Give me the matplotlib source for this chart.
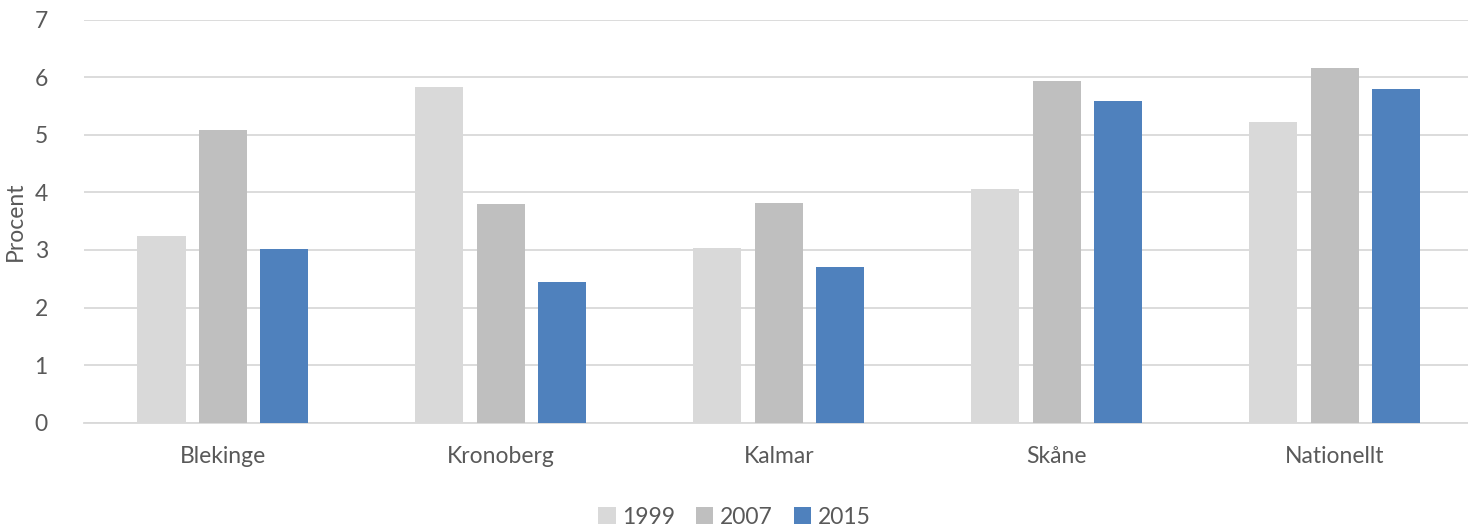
import numpy as np
import matplotlib
matplotlib.use('Agg')
import matplotlib.pyplot as plt

plt.rcParams['font.family'] = ['Lato', 'DejaVu Sans']

# data
regions = ['Blekinge', 'Kronoberg', 'Kalmar', 'Skåne', 'Nationellt']
years = ['1999', '2007', '2015']
v1999 = [3.24, 5.83, 3.03, 4.06, 5.22]
v2007 = [5.08, 3.80, 3.82, 5.93, 6.16]
v2015 = [3.02, 2.45, 2.71, 5.58, 5.80]
colors = ['#D9D9D9', '#BFBFBF', '#4F81BD']

txt = '#595959'
fs = 16.5

fig = plt.figure(figsize=(14.68, 5.25), dpi=100)
ax = fig.add_axes([0.0572, 0.195, 0.9428, 0.7675])

x = np.arange(len(regions))
w = 0.173
step = 0.221
for i, (vals, lab) in enumerate(zip([v1999, v2007, v2015], years)):
    ax.bar(x + (i - 1) * step, vals, width=w, color=colors[i], label=lab,
           zorder=3)

ax.set_ylim(0, 7)
ax.set_xlim(-0.5, 4.48)
ax.set_yticks(range(0, 8))
ax.set_xticks(x)
ax.set_xticklabels(regions)
ax.yaxis.grid(True, color='#D9D9D9', linewidth=1.3, zorder=0)
for s in ['top', 'right', 'left']:
    ax.spines[s].set_visible(False)
ax.spines['bottom'].set_color('#D9D9D9')
ax.spines['bottom'].set_linewidth(1.3)
ax.tick_params(axis='both', length=0, labelsize=fs, colors=txt)
ax.tick_params(axis='x', pad=17)
ax.tick_params(axis='y', pad=26)
ax.set_ylabel('Procent', fontsize=fs, color=txt, labelpad=6)

ax.legend(loc='center', bbox_to_anchor=(0.47, -0.235), ncol=3,
          frameon=False, fontsize=fs, labelcolor=txt,
          handlelength=0.75, handleheight=0.75, handletextpad=0.3,
          columnspacing=0.9)

fig.savefig('out.png', dpi=100)
